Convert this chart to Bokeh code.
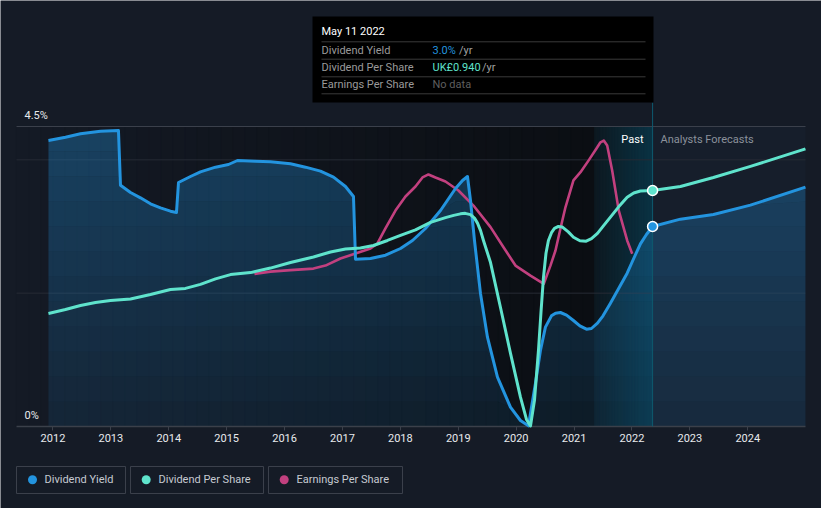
import numpy as np
from bokeh.plotting import figure
from bokeh.models import Range1d, FixedTicker
from bokeh.embed import file_html
from bokeh.resources import INLINE
from bokeh.core.properties import value

# ---------------- data ----------------
yield_years = [2011.922, 2012.216, 2012.475, 2012.820, 2013.131, 2013.166, 2013.339, 2013.511,
               2013.684, 2013.857, 2014.029, 2014.133, 2014.168, 2014.375, 2014.547, 2014.807,
               2015.031, 2015.187, 2015.497, 2015.756, 2016.102, 2016.361, 2016.620, 2016.845,
               2017.052, 2017.190, 2017.225, 2017.484, 2017.743, 2018.002, 2018.209, 2018.433,
               2018.693, 2018.952, 2019.073, 2019.159, 2019.211, 2019.280, 2019.383, 2019.504,
               2019.677, 2019.901, 2020.074, 2020.212, 2020.333, 2020.419, 2020.505, 2020.609,
               2020.680, 2020.764, 2020.870, 2020.989, 2021.100, 2021.214, 2021.300, 2021.404,
               2021.500, 2021.628, 2021.770, 2021.917, 2022.030, 2022.146, 2022.250, 2022.356,
               2022.837, 2023.407, 2024.046, 2024.996]
yield_pct = [4.29, 4.34, 4.39, 4.43, 4.44, 3.62, 3.51, 3.43,
             3.34, 3.28, 3.23, 3.21, 3.66, 3.75, 3.82, 3.89,
             3.93, 3.99, 3.98, 3.97, 3.94, 3.89, 3.83, 3.74,
             3.60, 3.45, 2.51, 2.52, 2.57, 2.67, 2.79, 2.97,
             3.24, 3.57, 3.69, 3.75, 3.39, 2.79, 2.00, 1.34,
             0.74, 0.29, 0.09, 0.01, 0.65, 1.14, 1.49, 1.66,
             1.70, 1.71, 1.67, 1.59, 1.51, 1.46, 1.47, 1.55,
             1.66, 1.85, 2.07, 2.30, 2.52, 2.74, 2.88, 3.00,
             3.11, 3.18, 3.32, 3.59]

dps_years = [2011.922, 2012.216, 2012.475, 2012.734, 2012.993, 2013.339, 2013.684, 2014.029,
             2014.288, 2014.547, 2014.807, 2015.066, 2015.411, 2015.756, 2016.102, 2016.499,
             2016.793, 2017.052, 2017.311, 2017.535, 2017.777, 2018.002, 2018.261, 2018.520,
             2018.779, 2018.920, 2019.038, 2019.120, 2019.211, 2019.280, 2019.332, 2019.385,
             2019.435, 2019.557, 2019.729, 2019.902,
             2020.074, 2020.178, 2020.247, 2020.316, 2020.385, 2020.430, 2020.471, 2020.515,
             2020.557, 2020.610, 2020.661, 2020.730, 2020.794, 2020.900, 2020.990, 2021.100,
             2021.209, 2021.300, 2021.404, 2021.510, 2021.628, 2021.770, 2021.917, 2022.030,
             2022.146, 2022.356,
             2022.837, 2023.407, 2024.046, 2024.996]
dps_gbp = [0.450, 0.466, 0.482, 0.494, 0.502, 0.508, 0.526, 0.546,
           0.550, 0.566, 0.588, 0.605, 0.613, 0.631, 0.653, 0.675,
           0.695, 0.707, 0.711, 0.721, 0.741, 0.761, 0.783, 0.813,
           0.832, 0.841, 0.847, 0.849, 0.844, 0.830, 0.810, 0.780,
           0.741, 0.653, 0.474, 0.291,
           0.117, 0.028, 0.002, 0.104, 0.303, 0.460, 0.593, 0.690,
           0.741, 0.772, 0.789, 0.797, 0.795, 0.775, 0.754, 0.740,
           0.738, 0.748, 0.769, 0.800, 0.834, 0.875, 0.913, 0.930,
           0.938, 0.940,
           0.956, 0.992, 1.036, 1.106]

eps_years = [2015.480, 2015.756, 2016.102, 2016.499, 2016.706, 2016.965, 2017.225, 2017.484,
             2017.604, 2017.742, 2017.915, 2018.088, 2018.261, 2018.382, 2018.485, 2018.606,
             2018.779, 2019.003, 2019.262, 2019.557, 2019.781, 2019.988, 2020.247, 2020.477,
             2020.592, 2020.679, 2020.765, 2020.851, 2020.989, 2021.111, 2021.249, 2021.387,
             2021.456, 2021.513, 2021.572, 2021.658, 2021.772, 2021.917, 2022.004]
eps_gbp = [0.608, 0.617, 0.623, 0.629, 0.641, 0.669, 0.689, 0.709,
           0.729, 0.789, 0.860, 0.916, 0.956, 0.992, 1.004, 0.992,
           0.976, 0.940, 0.880, 0.794, 0.714, 0.641, 0.601, 0.568,
           0.641, 0.701, 0.789, 0.873, 0.980, 1.013, 1.059, 1.107,
           1.132, 1.139, 1.119, 1.020, 0.860, 0.741, 0.688]

series_names = ["Dividend Yield", "Dividend Per Share", "Earnings Per Share"]
tick_years = list(range(2012, 2025))
y_tick_labels = ["4.5%", "0%"]
y_top_value = 4.5
grid_yields = [2.0, 4.0]
tooltip_date = "May 11 2022"
latest_year = 2022.356
latest_yield = 3.0
latest_dps = 0.940
past_band_start = 2021.356
x_start, x_end = 2011.370, 2024.997   # extent of the chart area

# ---------------- styles ----------------
BG = "#151b26"
BLUE = "#2394df"
TEAL = "#5fe3cc"
PINK = "#c2407f"
AXIS = "#3b404a"
FONT = value("Roboto")

W, H = 821, 508
PX_PER_YEAR = 57.9
x0_frame = x_start - 16 / PX_PER_YEAR
x1_frame = x_end + 16 / PX_PER_YEAR

p = figure(width=W, height=H, output_backend="svg", toolbar_location=None,
           x_range=Range1d(x0_frame, x1_frame), y_range=Range1d(-82 / 66.667, 426 / 66.667),
           y_axis_location=None, min_border=0,
           background_fill_color=BG, border_fill_color=BG, outline_line_color=None)
p.extra_y_ranges = {"dps": Range1d(-82 / 251.06, 426 / 251.06), "px": Range1d(508, 0)}
p.extra_x_ranges = {"px": Range1d(0, 821)}
p.xgrid.visible = False
p.ygrid.visible = False


def lerp_colors(c0, c1, n):
    out = []
    for i in range(n):
        t = i / max(n - 1, 1)
        r, g, b = [int(round(a + (bb - a) * t)) for a, bb in zip(c0, c1)]
        out.append("#%02x%02x%02x" % (r, g, b))
    return out


# past region: dark horizontal gradient
n1 = 48
e1 = np.linspace(x_start, past_band_start, n1 + 1)
c1 = lerp_colors((20, 26, 37), (11, 14, 19), n1)
p.quad(left=e1[:-1], right=e1[1:], top=126, bottom=426, y_range_name="px",
       fill_color=c1, line_color=c1, line_width=1)
# last twelve months: teal gradient
n2 = 20
e2 = np.linspace(past_band_start, latest_year, n2 + 1)
c2 = lerp_colors((13, 25, 33), (10, 50, 67), n2)
p.quad(left=e2[:-1], right=e2[1:], top=126, bottom=426, y_range_name="px",
       fill_color=c2, line_color=c2, line_width=1)
# forecast region
p.quad(left=[latest_year], right=[x_end], top=126, bottom=426, y_range_name="px",
       fill_color="#161e2b", line_color=None)

# grid lines
p.segment(x0=[x_start], x1=[x_end], y0=[y_top_value], y1=[y_top_value],
          line_color="#3c414c", line_width=1)
p.segment(x0=[x_start] * len(grid_yields), x1=[x_end] * len(grid_yields),
          y0=grid_yields, y1=grid_yields, line_color="#262b35", line_width=1)

# yield area with vertical gradient
yy = np.array(yield_years)
yv = np.array(yield_pct)
nb = 12
levels = np.linspace(0, y_top_value, nb + 1)
for i in range(nb):
    a = 0.10 + (0.34 - 0.10) * (i + 0.5) / nb
    p.varea(x=yy, y1=np.minimum(yv, levels[i]), y2=np.minimum(yv, levels[i + 1]),
            fill_color=BLUE, fill_alpha=a)

# x axis line
p.segment(x0=[x_start], x1=[x_end], y0=[0], y1=[0], line_color=AXIS, line_width=1.5)

# lines
p.line(eps_years, eps_gbp, y_range_name="dps", line_color=PINK, line_width=2.6,
       line_join="round")
p.line(yield_years, yield_pct, line_color=BLUE, line_width=3, line_join="round")
p.line(dps_years, dps_gbp, y_range_name="dps", line_color=TEAL, line_width=3,
       line_join="round")

# today line
p.segment(x0=[latest_year], x1=[latest_year], y0=[102], y1=[426], y_range_name="px",
          line_color="#0e5a6e", line_width=1)

# markers
p.scatter([latest_year], [latest_yield], size=10, fill_color=BLUE, line_color="white",
          line_width=1.5)
p.scatter([latest_year], [latest_dps], size=10, y_range_name="dps", fill_color=TEAL,
          line_color="white", line_width=1.5)


def ptext(xs, ys, texts, color, size="11px", align="left", style="normal"):
    p.text(x=xs, y=ys, text=texts, text_color=color, text_font=FONT,
           text_font_size=size, text_align=align, text_baseline="middle",
           text_font_style=style, x_range_name="px", y_range_name="px")


# y labels
ptext([24, 24], [114.5, 414.5], y_tick_labels, "#e8eaed")
# past / forecast labels
ptext([643], [138.5], ["Past"], "#ffffff", align="right")
ptext([660], [138.5], ["Analysts Forecasts"], "#8b919b")

# tooltip
p.quad(left=[312], right=[653], top=[16], bottom=[102], x_range_name="px",
       y_range_name="px", fill_color="#000000", line_color=None)
sep_y = [41.3, 58.7, 76.3, 93.3]
p.segment(x0=[321] * 4, x1=[645] * 4, y0=sep_y, y1=sep_y, x_range_name="px",
          y_range_name="px", line_color="#3a3a3a", line_width=1)
ptext([321], [31], [tooltip_date], "#ffffff")
ptext([321, 321, 321], [49.5, 66.8, 84.3], series_names, "#9a9a9a")
ptext([432], [49.5], ["%.1f%%" % latest_yield], BLUE)
ptext([458.5], [49.5], ["/yr"], "#a0a0a0")
ptext([432], [66.8], ["UK£%.3f" % latest_dps], TEAL)
ptext([481.5], [66.8], ["/yr"], "#a0a0a0")
ptext([432], [84.3], ["No data"], "#5f5f5f")

# legend
p.quad(left=[16, 130, 268], right=[125, 263, 402], top=466, bottom=493,
       x_range_name="px", y_range_name="px", fill_alpha=0,
       line_color="#3b404b", line_width=1)
p.scatter([32, 145.7, 283.7], [479.3] * 3, size=9, fill_color=[BLUE, TEAL, PINK],
          line_color=None, x_range_name="px", y_range_name="px")
ptext([44, 158, 296], [479.3] * 3, series_names, "#c6cad1")

# x axis (ticks and labels) fixed at 0 %
ax = p.xaxis[0]
ax.fixed_location = 0
ax.ticker = FixedTicker(ticks=tick_years)
ax.major_label_text_color = "#e8eaed"
ax.major_label_text_font = "Roboto"
ax.major_label_text_font_size = "11px"
ax.axis_line_color = None
ax.major_tick_line_color = AXIS
ax.major_tick_out = 4
ax.major_tick_in = 0
ax.minor_tick_out = 0
ax.minor_tick_in = 0
ax.major_label_standoff = 3

open("out.html", "w").write(file_html(p, INLINE))
